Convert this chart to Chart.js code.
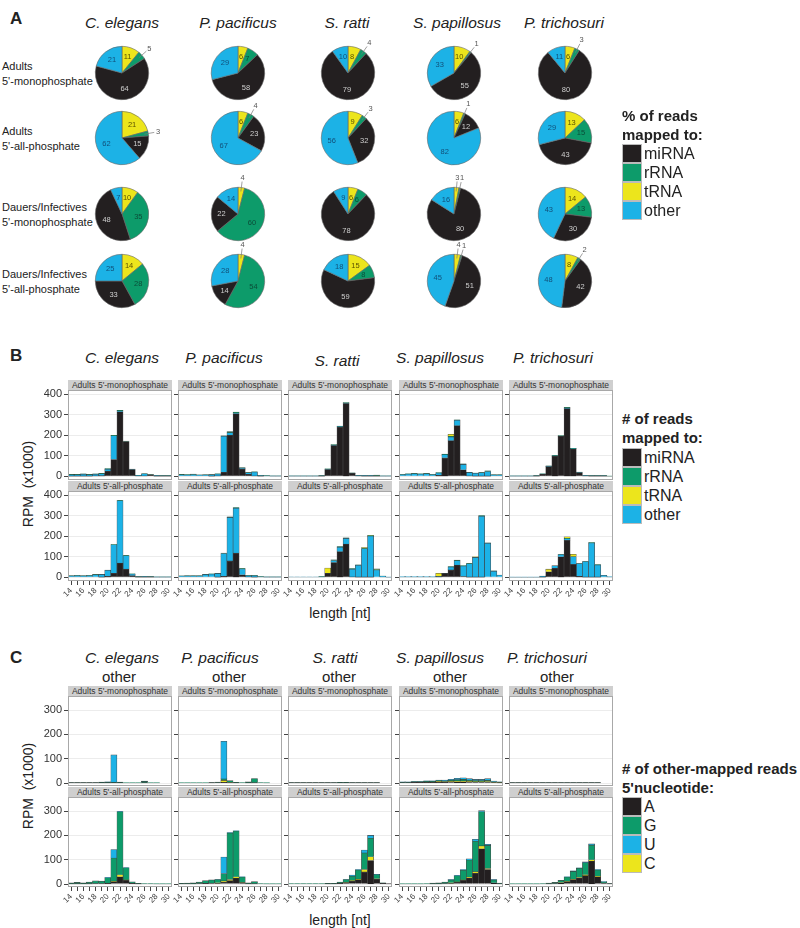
<!DOCTYPE html>
<html>
<head>
<meta charset="utf-8">
<script src="https://cdn.jsdelivr.net/npm/chart.js@4.4.1/dist/chart.umd.min.js"></script>
<style>
body { margin: 0; background: #fff; }
#fig { position: relative; width: 800px; height: 928px; overflow: hidden;
       font-family: "Liberation Sans", Arial, sans-serif; color: #222; }
.abs { position: absolute; white-space: pre; line-height: 1; }
canvas { position: absolute; }
.strip { position: absolute; background: #cfcfcf; color: #333; font-size: 8.5px;
         text-align: center; line-height: 10px; height: 10px; white-space: nowrap; }
.box { position: absolute; border: 1px solid #bbb; box-sizing: border-box; }
</style>
</head>
<body>
<div id="fig"></div>
<script>
const species = ["C. elegans", "P. pacificus", "S. ratti", "S. papillosus", "P. trichosuri"];
const readTypes = ["miRNA", "rRNA", "tRNA", "other"];
const readColors = ["#231f20", "#0d9b6a", "#ece51c", "#1cb2e6"];
const nucleotides = ["A", "G", "U", "C"];
const nucColors = ["#231f20", "#0d9b6a", "#1cb2e6", "#ece51c"];
const lengths = [14,15,16,17,18,19,20,21,22,23,24,25,26,27,28,29,30];
const bTicks = [0, 100, 200, 300, 400];
const cTicks = [0, 100, 200, 300];

// pies: values in slice order, clockwise from top = tRNA, rRNA, miRNA, other
const pieOrder = [2, 1, 0, 3];
const pieAdultMono  = [[11,5,64,21],[6,7,58,29],[8,4,79,10],[10,1,55,33],[6,3,80,11]];
const pieAdultAll   = [[21,3,15,62],[6,4,23,67],[9,3,32,56],[6,1,12,82],[13,15,43,29]];
const pieDauerMono  = [[10,35,48,7],[4,60,22,14],[6,6,78,9],[3,1,80,16],[14,13,30,43]];
const pieDauerAll   = [[14,28,33,25],[4,54,14,28],[15,8,59,18],[4,1,51,45],[8,2,42,48]];

// B: RPM x1000 per length, rows = miRNA, rRNA, tRNA, other
const readsCeMono = [
  [1,1,1,1,2,3,25,82,315,170,33,2,2,8,1,1,1],
  [2,2,2,2,2,2,3,2,3,2,1,1,1,1,1,1,1],
  [0,0,0,0,0,0,0,0,0,0,0,0,0,0,0,0,0],
  [7,7,9,7,8,10,10,116,4,0,1,2,10,0,2,1,1]];
const readsPpMono = [
  [0,0,0,0,0,1,2,20,200,305,35,10,2,1,0,0,0],
  [2,2,2,1,1,1,1,1,5,5,3,2,1,1,1,1,1],
  [0,0,0,0,0,0,0,0,0,0,0,0,0,0,0,0,0],
  [8,6,9,6,7,7,9,176,13,3,4,8,19,3,2,1,1]];
const readsSrMono = [
  [0,0,0,0,0,1,33,150,240,355,14,2,1,1,1,0,0],
  [1,1,1,1,1,1,2,3,3,3,2,1,1,1,2,1,1],
  [0,0,0,0,0,0,0,0,0,0,0,0,0,0,2,0,0],
  [1,1,1,1,1,1,2,2,2,2,1,1,2,2,1,1,1]];
const readsSpMono = [
  [0,0,0,0,0,0,5,90,174,247,32,2,1,1,1,0,0],
  [1,1,1,1,1,1,2,2,3,3,3,1,1,2,4,1,1],
  [0,0,0,0,0,0,0,0,10,0,0,0,0,0,0,0,0],
  [9,11,13,11,13,9,11,16,18,26,26,17,14,17,22,7,7]];
const readsPtMono = [
  [0,0,0,0,1,10,47,98,195,330,133,18,2,1,1,1,0],
  [1,1,1,1,1,1,2,2,3,4,2,2,1,1,1,1,1],
  [0,0,0,0,0,0,0,0,0,0,0,0,0,0,0,0,0],
  [1,1,1,1,1,1,2,2,1,2,1,1,1,1,1,1,0]];
const readsCeAll = [
  [0,0,0,0,0,1,5,20,70,40,8,1,1,1,0,0,0],
  [1,1,1,1,1,1,1,1,2,2,1,1,1,1,1,1,1],
  [0,0,0,0,0,0,0,0,0,0,0,0,0,0,0,0,0],
  [7,9,7,9,13,13,29,139,303,65,8,1,2,1,1,1,1]];
const readsPpAll = [
  [0,0,0,0,0,0,1,5,80,118,12,2,1,0,0,0,0],
  [1,1,1,1,1,1,1,2,3,3,2,1,1,1,1,1,1],
  [0,0,0,0,0,0,0,0,0,0,0,0,0,0,0,0,0],
  [6,7,7,7,14,16,18,111,212,219,29,7,8,2,1,1,1]];
const readsSrAll = [
  [0,0,0,0,0,0,19,72,125,162,2,1,1,1,0,0,0],
  [0,0,0,0,0,1,1,3,3,3,2,2,3,2,2,1,0],
  [0,0,0,0,0,0,25,0,0,0,0,0,3,2,3,0,0],
  [2,2,2,2,2,2,0,10,22,28,38,58,138,200,36,5,1]];
const readsSpAll = [
  [0,0,0,0,0,0,3,19,36,60,4,1,1,1,0,0,0],
  [0,0,0,0,0,0,0,0,2,3,2,2,2,3,2,1,0],
  [0,0,0,0,0,0,15,0,0,0,0,0,1,0,0,0,0],
  [3,3,3,3,3,3,2,1,14,21,51,65,96,297,166,30,11]];
const readsPtAll = [
  [0,0,0,0,0,1,27,44,100,180,63,5,1,1,1,0,0],
  [0,0,0,0,0,0,0,0,1,2,1,1,1,2,2,0,0],
  [0,0,0,0,0,0,13,0,0,8,11,0,0,0,0,0,0],
  [1,1,1,1,1,5,0,13,11,8,37,62,76,167,59,10,3]];

// C: other-mapped reads by 5' nucleotide, rows = A, G, U, C
const nucCeMono = [
  [1,1,1,1,1,1,1,1,1,0,0,0,1,0,0,0,0],
  [1,1,1,1,1,2,2,2,2,1,1,1,6,1,1,0,0],
  [0,0,0,0,0,1,2,113,1,0,0,0,1,0,0,0,0],
  [0,0,0,0,0,0,0,0,0,0,0,0,0,0,0,0,0]];
const nucPpMono = [
  [0,0,0,0,0,1,2,3,1,1,0,1,1,0,0,0,0],
  [1,1,1,1,1,1,2,6,8,2,2,4,18,2,1,0,0],
  [0,0,0,0,0,0,0,155,0,0,0,0,0,0,0,0,0],
  [0,0,0,0,0,0,0,8,1,0,0,0,0,0,0,0,0]];
const nucSrMono = [
  [1,1,1,1,1,1,1,1,1,1,1,1,1,1,1,0,0],
  [1,1,1,1,1,1,1,1,2,2,1,1,1,1,1,0,0],
  [0,0,0,0,0,0,0,0,0,0,0,0,0,0,0,0,0],
  [0,0,0,0,0,0,0,0,0,0,0,0,0,0,0,0,0]];
const nucSpMono = [
  [2,2,3,3,3,3,3,3,4,5,5,4,4,4,4,2,1],
  [2,2,3,3,3,3,2,3,4,5,6,5,4,4,5,2,1],
  [1,1,1,1,2,2,2,3,4,6,7,6,5,5,7,3,2],
  [0,0,0,0,1,1,5,3,3,4,4,3,2,2,2,1,1]];
const nucPtMono = [
  [1,1,1,1,1,1,1,1,1,1,1,1,1,1,1,0,0],
  [1,1,1,1,1,1,1,1,1,1,1,1,1,1,1,0,0],
  [0,0,0,0,0,0,0,0,0,0,0,0,0,0,0,0,0],
  [0,0,0,0,0,0,0,0,0,0,0,0,0,0,0,0,0]];
const nucCeAll = [
  [1,1,1,1,2,2,3,10,30,15,3,1,0,0,0,0,0],
  [4,6,4,7,11,10,22,95,259,50,6,2,2,2,1,1,1],
  [0,0,0,0,0,0,2,35,2,1,0,0,0,0,0,0,0],
  [0,0,0,0,0,0,1,2,8,2,0,0,0,0,0,0,0]];
const nucPpAll = [
  [1,1,1,2,3,4,4,8,14,25,6,1,1,0,0,0,0],
  [2,3,4,6,11,13,14,30,191,188,22,4,9,2,1,1,1],
  [0,0,0,0,0,0,1,68,2,1,1,0,0,0,0,0,0],
  [0,0,0,0,0,0,1,5,5,5,1,0,0,0,0,0,0]];
const nucSrAll = [
  [0,0,0,0,0,0,1,1,3,6,12,18,50,97,20,3,1],
  [2,2,2,2,2,2,2,2,5,12,18,37,68,76,17,2,0],
  [0,0,0,0,0,0,0,0,0,1,5,2,12,12,1,0,0],
  [0,0,0,0,0,0,0,0,0,1,2,3,10,15,2,0,0]];
const nucSpAll = [
  [0,0,0,0,0,1,1,2,4,8,15,25,45,145,60,5,1],
  [1,1,1,1,2,3,4,6,12,25,40,70,125,140,95,12,3],
  [0,0,0,0,0,0,0,0,1,2,3,5,8,5,4,1,0],
  [0,0,0,0,0,0,0,0,1,1,2,4,6,12,4,0,0]];
const nucPtAll = [
  [0,0,0,0,0,0,1,2,5,10,18,25,35,95,30,4,1],
  [1,1,1,1,1,2,3,5,9,18,32,38,50,60,26,5,1],
  [0,0,0,0,0,0,0,0,0,1,2,2,3,5,2,1,0],
  [0,0,0,0,0,0,0,0,1,1,2,2,3,5,2,0,0]];

// stacking bottom->top: miRNA, other, rRNA, tRNA  /  A, C, G, U
const stackOrder = [0, 3, 1, 2];

const fig = document.getElementById("fig");
const panelLeft = [68, 178, 288, 399, 509];
const PANEL_W = 104, PANEL_H = 90;

function addText(s, x, y, style, align) {
  const d = document.createElement("div");
  d.className = "abs";
  d.textContent = s;
  Object.assign(d.style, style || {});
  d.style.left = x + "px";
  d.style.top = y + "px";
  d.style.transform = align === "left" ? "translate(0,-50%)" : "translate(-50%,-50%)";
  fig.appendChild(d);
  return d;
}

function addCanvas(left, top, w, h) {
  const c = document.createElement("canvas");
  c.width = w; c.height = h;
  c.style.left = left + "px"; c.style.top = top + "px";
  c.style.width = w + "px"; c.style.height = h + "px";
  fig.appendChild(c);
  return c;
}

// ---------- pies ----------
const pieTextColors = ["#cfcfcf", "#0b4d38", "#5b5200", "#11507a"];
const pieLabelPlugin = {
  id: "pieLabels",
  afterDatasetsDraw(chart) {
    const ctx = chart.ctx;
    const ds = chart.data.datasets[0];
    ctx.save();
    ctx.font = "7.5px 'Liberation Sans', Arial, sans-serif";
    ctx.textAlign = "center";
    ctx.textBaseline = "middle";
    chart.getDatasetMeta(0).data.forEach((arc, i) => {
      const v = ds.data[i];
      const p = arc.getProps(["x", "y", "startAngle", "endAngle", "outerRadius"], true);
      const mid = (p.startAngle + p.endAngle) / 2;
      const cx = Math.cos(mid), cy = Math.sin(mid);
      if (v > 5) {
        const r = p.outerRadius * 0.62;
        ctx.fillStyle = pieTextColors[pieOrder[i]];
        ctx.fillText(v, p.x + cx * r, p.y + cy * r);
      } else {
        ctx.strokeStyle = "#777";
        ctx.lineWidth = 0.7;
        ctx.beginPath();
        ctx.moveTo(p.x + cx * p.outerRadius * 0.85, p.y + cy * p.outerRadius * 0.85);
        ctx.lineTo(p.x + cx * (p.outerRadius + 6), p.y + cy * (p.outerRadius + 6));
        ctx.stroke();
        ctx.fillStyle = "#555";
        ctx.fillText(v, p.x + cx * (p.outerRadius + 10), p.y + cy * (p.outerRadius + 10));
      }
    });
    ctx.restore();
  }
};

function makePie(cx, cy, values) {
  const c = addCanvas(cx - 45, cy - 45, 90, 90);
  new Chart(c.getContext("2d"), {
    type: "pie",
    data: {
      labels: pieOrder.map(k => readTypes[k]),
      datasets: [{
        data: values,
        backgroundColor: pieOrder.map(k => readColors[k]),
        borderColor: "#666",
        borderWidth: 0.6
      }]
    },
    options: {
      responsive: false, animation: false,
      layout: { padding: 18 },
      plugins: { legend: { display: false }, tooltip: { enabled: false } }
    },
    plugins: [pieLabelPlugin]
  });
}

// ---------- bar panels ----------
const panelBorder = {
  id: "panelBorder",
  afterDraw(chart) {
    const a = chart.chartArea, ctx = chart.ctx;
    ctx.save();
    ctx.strokeStyle = "#a8a8a8";
    ctx.lineWidth = 1;
    ctx.strokeRect(Math.round(a.left) + 0.5, Math.round(a.top) + 0.5, Math.round(a.width) - 1, Math.round(a.height) - 1);
    ctx.restore();
  }
};

function makeBars(col, plotTop, stripText, rows, names, colors, yMin, yMax, yTicks, showX) {
  const plotLeft = panelLeft[col];
  const axisW = col === 0 ? 30 : 5;
  const padTop = 6, padBottom = showX ? 0 : 6, xH = showX ? 24 : 0;

  const s = document.createElement("div");
  s.className = "strip";
  s.style.left = plotLeft + "px";
  s.style.top = (plotTop - 10) + "px";
  s.style.width = PANEL_W + "px";
  s.textContent = stripText;
  fig.appendChild(s);

  const c = addCanvas(plotLeft - axisW, plotTop - padTop, axisW + PANEL_W, padTop + PANEL_H + xH + padBottom);
  new Chart(c.getContext("2d"), {
    type: "bar",
    data: {
      labels: lengths,
      datasets: stackOrder.map(k => ({
        label: names[k],
        data: rows[k],
        backgroundColor: colors[k],
        borderColor: "rgba(45,45,45,0.85)",
        borderWidth: 0.6,
        barPercentage: 1,
        categoryPercentage: 1
      }))
    },
    options: {
      responsive: false, animation: false,
      layout: { padding: { top: padTop, bottom: padBottom, left: 0, right: 0 } },
      plugins: { legend: { display: false }, tooltip: { enabled: false } },
      scales: {
        x: {
          stacked: true,
          display: showX,
          grid: { display: true, drawOnChartArea: false, offset: false, tickLength: 4, tickColor: "#444" },
          border: { display: false },
          ticks: {
            autoSkip: false, minRotation: 45, maxRotation: 45, padding: 1,
            color: "#444", font: { size: 8, family: "'Liberation Sans', Arial, sans-serif" },
            callback: (v, i) => (lengths[i] % 2 === 0 ? String(lengths[i]) : "")
          },
          afterFit: sc => { sc.height = xH; sc.paddingLeft = 0; sc.paddingRight = 0; }
        },
        y: {
          stacked: true,
          min: yMin, max: yMax,
          grid: { color: "#ececec", tickColor: "#444", tickLength: 4, lineWidth: 1 },
          border: { display: false },
          ticks: {
            display: col === 0, padding: 2, color: "#333",
            font: { size: 11, family: "'Liberation Sans', Arial, sans-serif" }
          },
          afterBuildTicks: sc => { sc.ticks = yTicks.map(v => ({ value: v })); },
          afterFit: sc => { sc.width = axisW; sc.paddingTop = 0; sc.paddingBottom = 0; }
        }
      }
    },
    plugins: [panelBorder]
  });
}

// ---------- section A ----------
const italic = { fontStyle: "italic", fontSize: "15.5px" };
const panelLbl = { fontWeight: "bold", fontSize: "17px" };
const rowLbl = { fontSize: "11px", color: "#222" };

addText("A", 10, 18, panelLbl, "left");
const pieX = [122, 238, 348, 454, 565];
const pieTitleX = [122, 238, 347, 457, 564];
species.forEach((sp, i) => addText(sp, pieTitleX[i], 23, italic));

const pieRows = [pieAdultMono, pieAdultAll, pieDauerMono, pieDauerAll];
const pieY = [73, 138, 214, 281];
const pieRowLabels = [["Adults", "5'-monophosphate"], ["Adults", "5'-all-phosphate"],
                      ["Dauers/Infectives", "5'-monophosphate"], ["Dauers/Infectives", "5'-all-phosphate"]];
pieRows.forEach((row, r) => {
  addText(pieRowLabels[r][0], 2, pieY[r] - 7, rowLbl, "left");
  addText(pieRowLabels[r][1], 2, pieY[r] + 8, rowLbl, "left");
  row.forEach((vals, i) => makePie(pieX[i], pieY[r], vals));
});

function legend(x, titleY, titles, boxTop, names, colors) {
  const t = { fontWeight: "bold", fontSize: "15px" };
  titles.forEach((s, i) => addText(s, x, titleY + i * 19, t, "left"));
  names.forEach((n, i) => {
    const b = document.createElement("div");
    b.className = "box";
    b.style.left = x + "px";
    b.style.top = (boxTop + i * 19) + "px";
    b.style.width = "20px"; b.style.height = "19px";
    b.style.background = colors[i];
    fig.appendChild(b);
    addText(n, x + 22, boxTop + i * 19 + 10, { fontSize: "16px" }, "left");
  });
}
legend(622, 115, ["% of reads", "mapped to:"], 144, readTypes, readColors);

// ---------- section B ----------
addText("B", 10, 355, panelLbl, "left");
const bTitleX = [122, 224, 337, 440, 553];
species.forEach((sp, i) => addText(sp, bTitleX[i], i === 2 ? 361 : 358, italic));
const bMono = [readsCeMono, readsPpMono, readsSrMono, readsSpMono, readsPtMono];
const bAll = [readsCeAll, readsPpAll, readsSrAll, readsSpAll, readsPtAll];
bMono.forEach((rows, i) => makeBars(i, 390, "Adults 5'-monophosphate", rows, readTypes, readColors, -18, 421, bTicks, false));
bAll.forEach((rows, i) => makeBars(i, 491, "Adults 5'-all-phosphate", rows, readTypes, readColors, -18, 421, bTicks, true));
addText("RPM  (x1000)", 28, 484, {}, "center").style.cssText += "font-size:14px;transform:translate(-50%,-50%) rotate(-90deg);";
addText("length [nt]", 340, 613, { fontSize: "14px" });
legend(622, 418, ["# of reads", "mapped to:"], 448, readTypes, readColors);

// ---------- section C ----------
addText("C", 10, 657, panelLbl, "left");
const cTitleX = [122, 220, 335, 440, 547];
const cOtherX = [119, 229, 339, 450, 557];
species.forEach((sp, i) => {
  addText(sp, cTitleX[i], 658, italic);
  addText("other", cOtherX[i], 676, { fontSize: "15px" });
});
const cMono = [nucCeMono, nucPpMono, nucSrMono, nucSpMono, nucPtMono];
const cAll = [nucCeAll, nucPpAll, nucSrAll, nucSpAll, nucPtAll];
cMono.forEach((rows, i) => makeBars(i, 696, "Adults 5'-monophosphate", rows, nucleotides, nucColors, -12, 358, cTicks, false));
cAll.forEach((rows, i) => makeBars(i, 797, "Adults 5'-all-phosphate", rows, nucleotides, nucColors, -12, 358, cTicks, true));
addText("RPM  (x1000)", 28, 786, {}, "center").style.cssText += "font-size:14px;transform:translate(-50%,-50%) rotate(-90deg);";
addText("length [nt]", 340, 920, { fontSize: "14px" });
legend(622, 768, ["# of other-mapped reads", "5'nucleotide:"], 797, nucleotides, nucColors);
</script>
</body>
</html>
